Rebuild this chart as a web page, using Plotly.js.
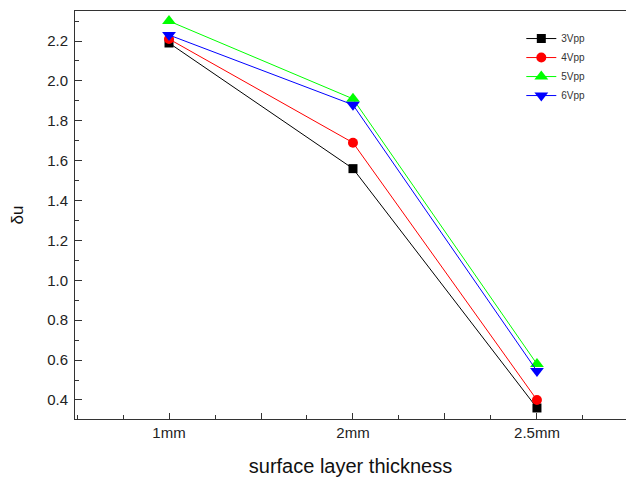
<!DOCTYPE html>
<html>
<head>
<meta charset="utf-8">
<script src="https://cdn.plot.ly/plotly-3.0.1.min.js"></script>
<style>html,body{margin:0;padding:0;background:#fff;}#chart{width:626px;height:477px;}</style>
</head>
<body>
<div id="chart"></div>
<script>
const categories = ['1mm', '2mm', '2.5mm'];
const seriesNames = ['3Vpp', '4Vpp', '5Vpp', '6Vpp'];
const v3 = [2.19, 1.56, 0.36];
const v4 = [2.21, 1.69, 0.40];
const v5 = [2.30, 1.91, 0.58];
const v6 = [2.23, 1.88, 0.545];
const yTicks = [0.4, 0.6, 0.8, 1.0, 1.2, 1.4, 1.6, 1.8, 2.0, 2.2];

const xs = categories.map((c, i) => i + 1);
const colors = ['#000000', '#ff0000', '#00ff00', '#0000ff'];
const symbols = ['square', 'circle', 'triangle-up', 'triangle-down'];
const sizes = [9, 10, 12, 12];
const values = [v3, v4, v5, v6];

const traces = values.map((v, k) => ({
  x: xs, y: v, name: seriesNames[k], type: 'scatter', mode: 'lines+markers',
  line: {color: colors[k], width: 1},
  marker: {color: colors[k], symbol: symbols[k], size: sizes[k]}
}));

// major ticks every half step, labels only at categories
const tickvals = [], ticktext = [];
for (let i = 0; i < categories.length; i++) {
  tickvals.push(xs[i]); ticktext.push(categories[i]);
  tickvals.push(xs[i] + 0.5); ticktext.push('');
}

const layout = {
  width: 626, height: 477,
  margin: {l: 75, r: 0, t: 11, b: 58},
  paper_bgcolor: '#fff', plot_bgcolor: '#fff',
  font: {family: 'Liberation Sans, Arial, sans-serif', color: '#222'},
  showlegend: true,
  legend: {x: 0.81, y: 0.968, xanchor: 'left', yanchor: 'top',
           font: {size: 10, color: '#333'}, bgcolor: 'rgba(0,0,0,0)',
           itemwidth: 30, tracegroupgap: 0},
  xaxis: {
    range: [0.489, 3.484], showgrid: false, zeroline: false,
    showline: true, linecolor: '#333', linewidth: 1, mirror: true,
    tickmode: 'array', tickvals: tickvals, ticktext: ticktext,
    ticks: 'inside', ticklen: 6, tickcolor: '#333',
    minor: {dtick: 0.25, tick0: 0.75, ticks: 'inside', ticklen: 4, tickcolor: '#333', showgrid: false},
    tickfont: {size: 15, color: '#222'},
    title: {text: 'surface layer thickness', font: {size: 20, color: '#111'}, standoff: 19}
  },
  yaxis: {
    range: [0.3047, 2.3504], showgrid: false, zeroline: false,
    showline: true, linecolor: '#333', linewidth: 1,
    tickmode: 'array', tickvals: yTicks, ticktext: yTicks.map(t => t.toFixed(1)),
    ticks: 'inside', ticklen: 7, tickcolor: '#333', ticklabelstandoff: 3,
    minor: {dtick: 0.1, tick0: 0.3, ticks: 'inside', ticklen: 4, tickcolor: '#333', showgrid: false},
    tickfont: {size: 15, color: '#222'},
    title: {text: 'δu', font: {size: 17, color: '#111'}, standoff: 19}
  }
};

Plotly.newPlot('chart', traces, layout, {displayModeBar: false, staticPlot: true});
</script>
</body>
</html>
